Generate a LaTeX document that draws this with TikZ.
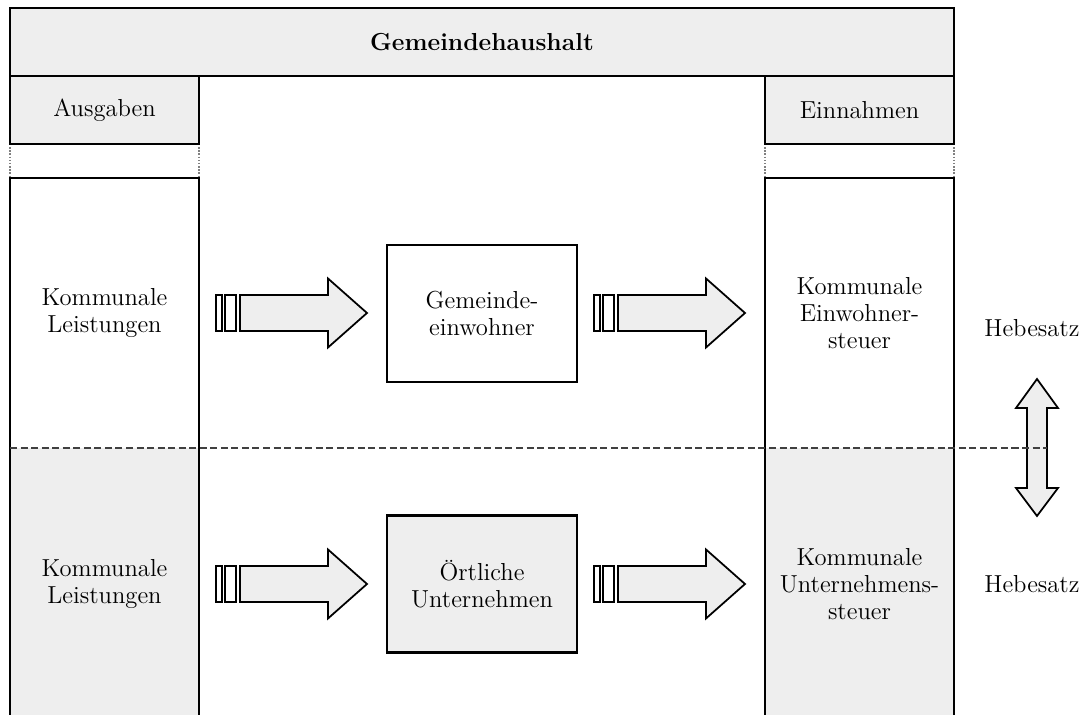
\documentclass[tikz,border=0pt]{standalone}
\usepackage{tikz}
\usepackage{xcolor}
\usetikzlibrary{positioning}

\definecolor{boxgray}{HTML}{EEEEEE}

\tikzset{
  txt/.style={align=center, inner sep=0pt, font=\fontsize{14}{15.5}\selectfont},
  frame/.style={draw=black, line width=1.5pt},
  hdbox/.style={txt, frame, fill=boxgray, minimum width=3.78cm, minimum height=1.36cm},
  midbox/.style={txt, frame, minimum width=3.8cm, minimum height=2.74cm},
  arr/.style={draw=black, line width=1pt, line join=miter},
  gapline/.style={draw=gray, line width=0.8pt, densely dotted},
}

\begin{document}
\begin{tikzpicture}[x=0.02cm, y=-0.02cm]
\useasboundingbox (0,0) rectangle (1085,715);
% columns
\fill[boxgray] (10,448) rectangle (199,715);
\fill[boxgray] (765,448) rectangle (954,715);
\draw[frame] (10,715) |- (199,178) -- (199,715);
\draw[frame] (765,715) |- (954,178) -- (954,715);
\draw[gapline] (10,144) -- (10,178) (199,144) -- (199,178);
\draw[gapline] (765,144) -- (765,178) (954,144) -- (954,178);
% header
\node[txt, frame, fill=boxgray, minimum width=18.88cm, minimum height=1.36cm, font=\fontsize{14}{15.5}\selectfont\bfseries] (haushalt) at (482,42) {Gemeindehaushalt};
\node[hdbox] (ausgaben) at (104.5,110) {Ausgaben};
\node[hdbox] (einnahmen) at (859.5,110) {Einnahmen};
% texts in the columns
\node[txt] (leistA) at (104.5,313) {Kommunale\\Leistungen};
\node[txt] (leistB) at (104.5,584) {Kommunale\\Leistungen};
\node[txt] (steuerA) at (859.5,313) {Kommunale\\Einwohner-\\steuer};
\node[txt] (steuerB) at (859.5,584) {Kommunale\\Unternehmens-\\steuer};
% boxes in the middle
\node[midbox] (einwohner) at (482,313.5) {Gemeinde-\\einwohner};
\node[midbox, fill=boxgray] (unternehmen) at (482,584) {\"Ortliche\\Unternehmen};
% block arrows
\foreach \ax/\ay in {216/313, 594/313, 216/584, 594/584}{
  \draw[arr, fill=white] (\ax,\ay-18) rectangle (\ax+6,\ay+18);
  \draw[arr, fill=white] (\ax+9,\ay-18) rectangle (\ax+20,\ay+18);
  \draw[arr, fill=boxgray] (\ax+24,\ay-18) -- (\ax+112,\ay-18) -- (\ax+112,\ay-34.5)
    -- (\ax+151,\ay) -- (\ax+112,\ay+34.5) -- (\ax+112,\ay+18) -- (\ax+24,\ay+18) -- cycle;
}
% Hebesatz
\draw[arr, fill=boxgray] (1037,379) -- (1058,408) -- (1047,408) -- (1047,488) -- (1058,488)
  -- (1037,516) -- (1016,488) -- (1027,488) -- (1027,408) -- (1016,408) -- cycle;
\coordinate (cutL) at (10,448);
\coordinate (cutR) at (1047,448);
\draw[black!75, line width=0.9pt, dash pattern=on 4pt off 2pt] (cutL) -- (cutR);
\node[txt] (hebA) at (1032,328) {Hebesatz};
\node[txt] (hebB) at (1032,584) {Hebesatz};
\end{tikzpicture}
\end{document}
